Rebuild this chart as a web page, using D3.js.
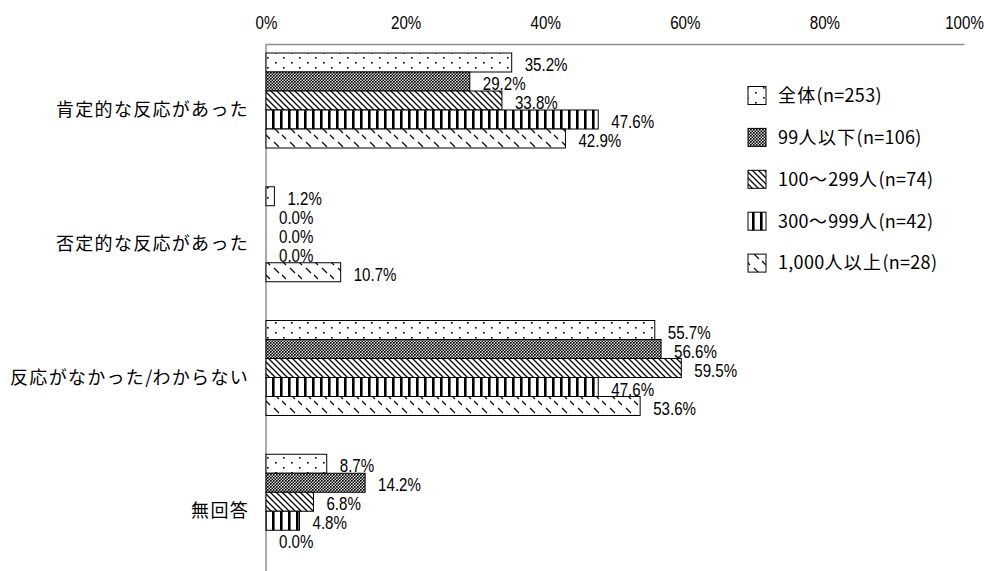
<!DOCTYPE html>
<html lang="ja">
<head>
<meta charset="utf-8">
<script src="https://cdn.jsdelivr.net/npm/d3@7"></script>
<style>
  html, body { margin: 0; padding: 0; background: #fff; }
  svg { display: block; }
</style>
</head>
<body>
<svg id="chart" width="984" height="571"></svg>
<script>
// Survey categories (rows) and company-size groups (series)
const categories = ["肯定的な反応があった", "否定的な反応があった", "反応がなかった/わからない", "無回答"];
const seriesNames = ["全体(n=253)", "99人以下(n=106)", "100～299人(n=74)", "300～999人(n=42)", "1,000人以上(n=28)"];

// Percentages per series, in category order
const valuesAll     = [35.2, 1.2, 55.7, 8.7];
const values99      = [29.2, 0.0, 56.6, 14.2];
const values100_299 = [33.8, 0.0, 59.5, 6.8];
const values300_999 = [47.6, 0.0, 47.6, 4.8];
const values1000    = [42.9, 10.7, 53.6, 0.0];

const tickValues = [0, 20, 40, 60, 80, 100];
const tickLabels = ["0%", "20%", "40%", "60%", "80%", "100%"];

const seriesValues = [valuesAll, values99, values100_299, values300_999, values1000];
const patternIds = ["p-dots", "p-check", "p-diag", "p-vert", "p-dash"];

const svg = d3.select("#chart");
const NUM_FONT = "'Liberation Sans', Arial, sans-serif";
const NUM_SQUEEZE = 0.84;   // condensed look for the numerals
const JP_FONT = "'Noto Sans CJK JP', 'Noto Sans', sans-serif";

// ---- fill patterns ----
const defs = svg.append("defs");

// sparse dots
const pDots = defs.append("pattern").attr("id", "p-dots").attr("patternUnits", "userSpaceOnUse")
  .attr("width", 16).attr("height", 10);
pDots.append("rect").attr("width", 16).attr("height", 10).attr("fill", "#fff");
pDots.append("rect").attr("x", 3).attr("y", 2).attr("width", 1.6).attr("height", 1.6).attr("fill", "#000");
pDots.append("rect").attr("x", 11).attr("y", 7).attr("width", 1.6).attr("height", 1.6).attr("fill", "#000");

// fine checkerboard
const pCheck = defs.append("pattern").attr("id", "p-check").attr("patternUnits", "userSpaceOnUse")
  .attr("width", 3).attr("height", 3);
pCheck.append("rect").attr("width", 3).attr("height", 3).attr("fill", "#fff");
pCheck.append("rect").attr("x", 0).attr("y", 0).attr("width", 1.6).attr("height", 1.6).attr("fill", "#000");
pCheck.append("rect").attr("x", 1.5).attr("y", 1.5).attr("width", 1.6).attr("height", 1.6).attr("fill", "#000");
pCheck.append("rect").attr("x", 0).attr("y", 1.5).attr("width", 0.7).attr("height", 0.7).attr("fill", "#000");
pCheck.append("rect").attr("x", 1.5).attr("y", 0).attr("width", 0.7).attr("height", 0.7).attr("fill", "#000");

// dense back-diagonal lines
const pDiag = defs.append("pattern").attr("id", "p-diag").attr("patternUnits", "userSpaceOnUse")
  .attr("width", 6).attr("height", 6);
pDiag.append("rect").attr("width", 6).attr("height", 6).attr("fill", "#fff");
pDiag.append("path").attr("d", "M0,0L6,6M-3,3L3,9M3,-3L9,3")
  .attr("stroke", "#000").attr("stroke-width", 1.3);

// thick vertical stripes
const pVert = defs.append("pattern").attr("id", "p-vert").attr("patternUnits", "userSpaceOnUse")
  .attr("width", 8).attr("height", 8);
pVert.append("rect").attr("width", 8).attr("height", 8).attr("fill", "#fff");
pVert.append("rect").attr("x", 0).attr("width", 2.6).attr("height", 8).attr("fill", "#000");

// sparse short diagonal dashes
const pDash = defs.append("pattern").attr("id", "p-dash").attr("patternUnits", "userSpaceOnUse")
  .attr("width", 16).attr("height", 14);
pDash.append("rect").attr("width", 16).attr("height", 14).attr("fill", "#fff");
pDash.append("path").attr("d", "M2,2L7,7M10,9L14,13")
  .attr("stroke", "#000").attr("stroke-width", 1.2);

// ---- scales ----
const x = d3.scaleLinear().domain([0, 100]).range([266, 964]);
const y = d3.scaleBand().domain(categories).range([43, 578]).padding(0);
const barH = 19;
const barOffset = 10;

// ---- axes ----
const xAxis = d3.axisTop(x).tickValues(tickValues)
  .tickFormat((d, i) => tickLabels[i]).tickSize(0).tickPadding(15);
const gx = svg.append("g").attr("transform", "translate(0,44)").call(xAxis);
gx.select(".domain").attr("stroke", "#8f8f8f").attr("stroke-width", 1.5);
gx.selectAll("text").attr("font-family", NUM_FONT).attr("font-size", 18).attr("fill", "#000")
  .attr("transform", `scale(${NUM_SQUEEZE},1)`);
// keep the last tick label inside the frame
gx.selectAll(".tick").filter(d => d === 100).select("text").attr("text-anchor", "end").attr("x", 23);

svg.append("line").attr("x1", 266).attr("x2", 266).attr("y1", 44).attr("y2", 571)
  .attr("stroke", "#8f8f8f").attr("stroke-width", 1.5);

// mixed-script text: CJK runs spaced a little wider
function addMixedText(sel, str) {
  const runs = str.match(/[\u3000-\u9fff\uff00-\uffef]+|[^\u3000-\u9fff\uff00-\uffef]+/g);
  runs.forEach(r => {
    const cjk = /[\u3000-\u9fff\uff00-\uffef]/.test(r);
    sel.append("tspan").attr("letter-spacing", cjk ? 1.3 : 0.3).text(r);
  });
}

// category labels
categories.forEach(c => {
  const t = svg.append("text")
    .attr("x", 249).attr("y", y(c) + y.bandwidth() / 2)
    .attr("dy", "0.35em").attr("text-anchor", "end")
    .attr("font-family", JP_FONT).attr("font-size", 18).attr("fill", "#000");
  addMixedText(t, c);
});

// ---- bars ----
seriesValues.forEach((vals, si) => {
  const g = svg.append("g");
  const data = categories.map((c, ci) => ({ c, v: vals[ci] }));
  g.selectAll("rect").data(data.filter(d => d.v > 0)).join("rect")
    .attr("x", x(0))
    .attr("y", d => y(d.c) + barOffset + si * barH)
    .attr("width", d => x(d.v) - x(0))
    .attr("height", barH)
    .attr("fill", `url(#${patternIds[si]})`)
    .attr("stroke", "#000").attr("stroke-width", 1);
  g.selectAll("text").data(data).join("text")
    .attr("transform", d => `translate(${x(d.v) + 13},${y(d.c) + barOffset + si * barH + 18}) scale(${NUM_SQUEEZE},1)`)
    .attr("font-family", NUM_FONT).attr("font-size", 18).attr("fill", "#000")
    .text(d => d.v.toFixed(1) + "%");
});

// ---- legend ----
const legend = svg.append("g");
seriesNames.forEach((name, i) => {
  const cy = 95.5 + i * 41.9;
  legend.append("rect")
    .attr("x", 748).attr("y", cy - 9).attr("width", 18).attr("height", 18)
    .attr("fill", `url(#${patternIds[i]})`).attr("stroke", "#000").attr("stroke-width", 1);
  const t = legend.append("text")
    .attr("x", 778).attr("y", cy).attr("dy", "0.35em")
    .attr("font-family", JP_FONT).attr("font-size", 18).attr("fill", "#000");
  addMixedText(t, name);
});
</script>
</body>
</html>
